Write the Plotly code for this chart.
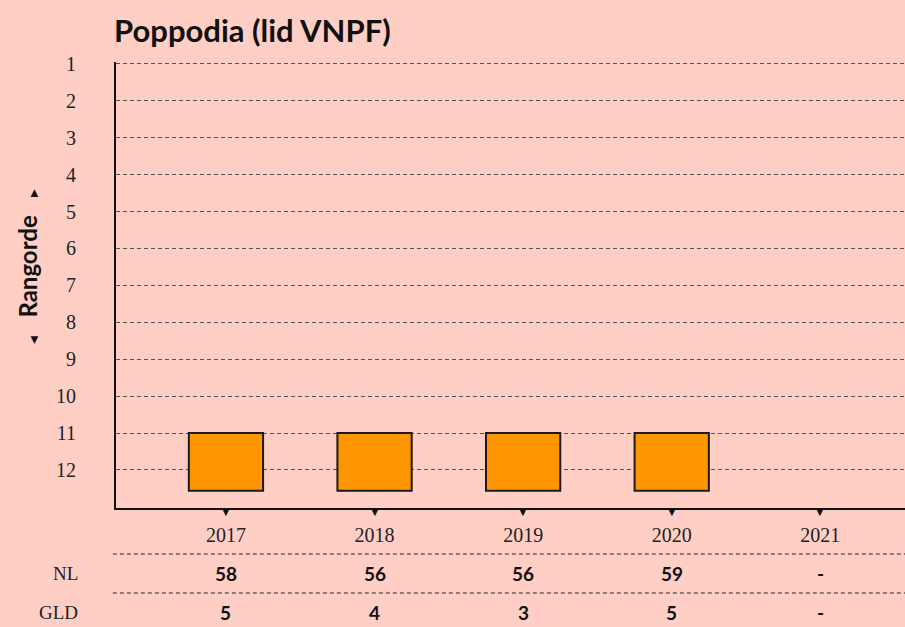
import plotly.graph_objects as go

# data
jaren = [2017, 2018, 2019, 2020, 2021]
rang = [11, 11, 11, 11, None]
nl = ["58", "56", "56", "59", "-"]
gld = ["5", "4", "3", "5", "-"]
rangen = list(range(1, 13))

bg = "#ffcfc6"
sans = "Lato"
serif = "Liberation Serif"

fig = go.Figure()

# balken (rangorde, loopt naar beneden)
fig.add_trace(go.Bar(
    x=jaren, y=[1.56 if r is not None else None for r in rang], base=rang,
    width=0.5, marker=dict(color="#ff9500", line=dict(color="#1a1a1a", width=2)),
    hoverinfo="skip", showlegend=False,
))

# plot-hoogte in pixels om rijen onder de grafiek te plaatsen
top_px, bot_px = 62, 508
h = bot_px - top_px


def py(p):
    return (bot_px - p) / h


# tabel onder de grafiek
for j, v1, v2 in zip(jaren, nl, gld):
    fig.add_annotation(x=j, y=py(573), xref="x", yref="paper", yanchor="middle", text="<b>" + v1 + "</b>",
                       showarrow=False, font=dict(family=sans, size=19, color="#111"))
    fig.add_annotation(x=j, y=py(612), xref="x", yref="paper", yanchor="middle", text="<b>" + v2 + "</b>",
                       showarrow=False, font=dict(family=sans, size=19, color="#111"))
    # driehoekje onder de as
    fig.add_annotation(x=j, y=0, xref="x", yref="paper", yanchor="top", yshift=4, text="▼",
                       showarrow=False, font=dict(family="DejaVu Sans", size=10, color="#111"))

for lab, p in [("NL", 573), ("GLD", 612)]:
    fig.add_annotation(x=-0.045, y=py(p), xref="paper", yref="paper", xanchor="right", yanchor="middle",
                       text=lab, showarrow=False, font=dict(family=serif, size=19, color="#222"))

for p in [554, 593]:
    fig.add_shape(type="line", xref="paper", yref="paper", x0=-0.004, x1=1, y0=py(p), y1=py(p),
                  line=dict(color="#222", width=1, dash="4px,3px"))

# y-as titel
fig.add_annotation(x=(27 - 116) / 789, y=py(267), xref="paper", yref="paper", textangle=-90,
                   xanchor="center", yanchor="middle",
                   text="<span style='font-size:10px'>◀</span>   <b>Rangorde</b>   <span style='font-size:10px'>▶</span>",
                   showarrow=False, font=dict(family=sans, size=24, color="#111"))

fig.update_layout(
    width=905, height=627,
    paper_bgcolor=bg, plot_bgcolor=bg,
    margin=dict(l=116, r=0, t=top_px, b=627 - bot_px),
    title=dict(text="<b>Poppodia (lid VNPF)</b>", x=114 / 905, xanchor="left", xref="container",
               y=1 - 31 / 627, yanchor="middle", yref="container",
               font=dict(family=sans, size=31, color="#111")),
)
fig.update_xaxes(
    range=[2016.26, 2021.57], tickvals=jaren, ticktext=[str(j) for j in jaren],
    showgrid=False, showline=True, linecolor="#111", linewidth=2, ticks="",
    tickfont=dict(family=serif, size=20, color="#222"), ticklabelstandoff=8,
    zeroline=False, fixedrange=True,
)
fig.update_yaxes(
    range=[13.03, 0.95], tickvals=rangen, ticktext=[str(r) for r in rangen],
    showgrid=True, gridcolor="#555", griddash="4px,3px", gridwidth=1,
    showline=True, linecolor="#111", linewidth=2, ticks="",
    tickfont=dict(family=serif, size=20, color="#222"), ticklabelstandoff=34,
    zeroline=False, fixedrange=True,
)

fig.write_html("out.html", config={"displayModeBar": False},
               post_script="document.body.style.margin='0';")
